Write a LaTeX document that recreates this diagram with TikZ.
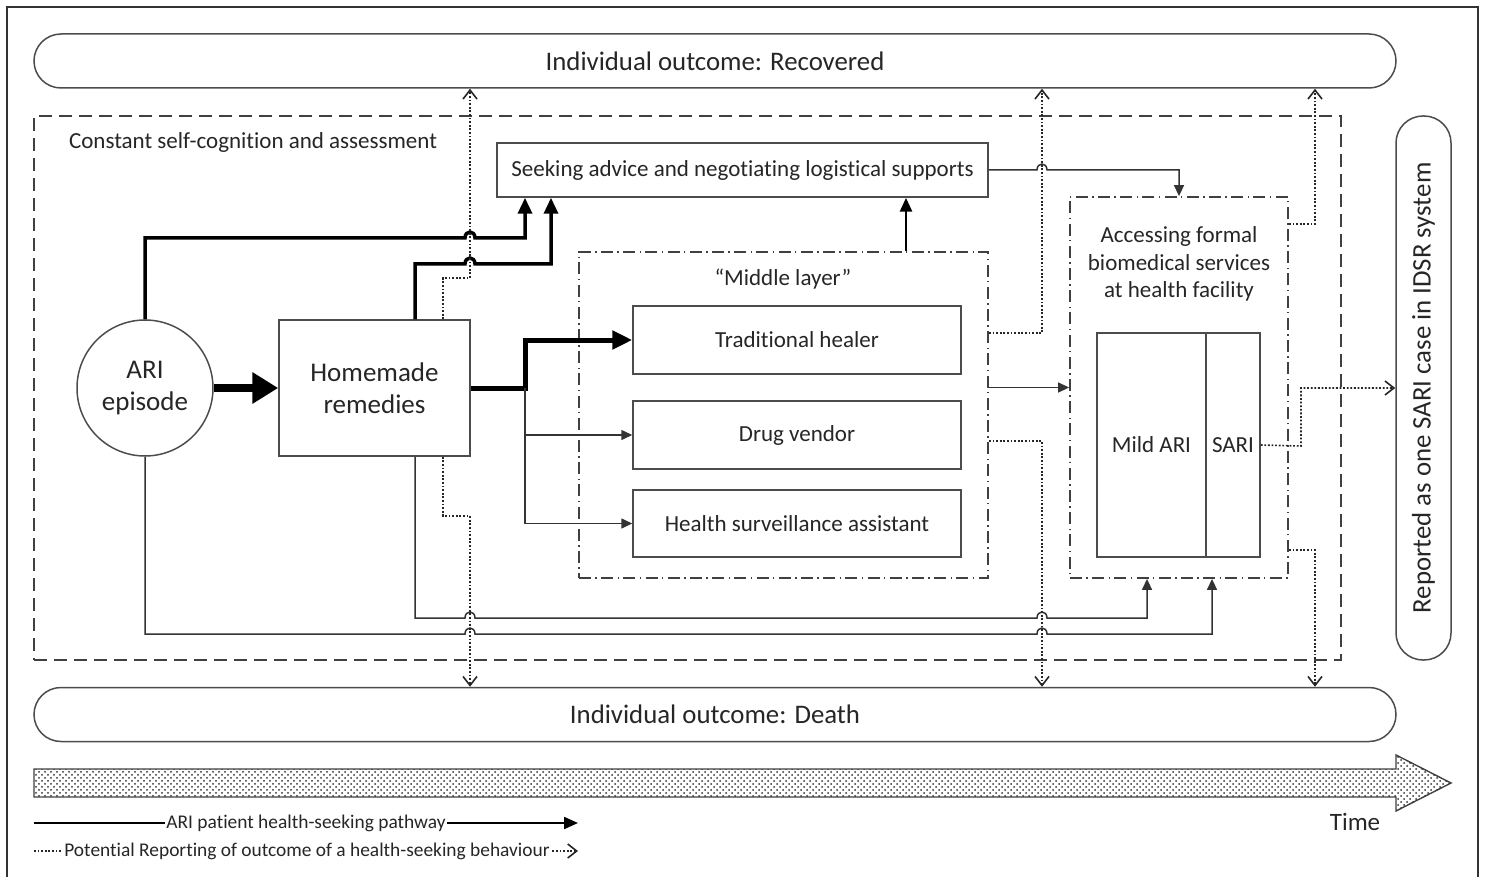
\documentclass[tikz,border=0pt]{standalone}
\usepackage{fontspec}
\setmainfont[Ligatures=NoCommon]{Carlito}
\usetikzlibrary{arrows.meta,patterns}
\begin{document}
\begin{tikzpicture}[x=0.5pt,y=-0.5pt,
  every node/.style={text=black!85},
  boxnode/.style={draw=black!70,line width=0.75pt,fill=white,inner sep=2pt,align=center,font=\fontsize{11.5}{14}\selectfont},
  pill/.style={draw=black!70,line width=0.75pt,fill=white,rounded corners=13.5pt,font=\fontsize{13.4}{16}\selectfont},
  bigdash/.style={draw=black!75,line width=1.2pt,dash pattern=on 6.5pt off 3.5pt},
  dashdot/.style={draw=black!75,line width=0.9pt,dash pattern=on 6pt off 2.2pt on 0.7pt off 2.2pt},
  hugearrow/.style={line width=4pt,-{Triangle[length=13pt,width=15pt]}},
  thickarrow/.style={line width=1.75pt,-{Triangle[length=8pt,width=7pt]}},
  medarrow/.style={line width=2.5pt,-{Triangle[length=10pt,width=9pt]}},
  midarrow/.style={line width=1.4pt,-{Triangle[length=7pt,width=6pt]}},
  thinarrow/.style={draw=black!80,line width=0.75pt,-{Triangle[length=5.5pt,width=5pt]}},
  dotarrow/.style={draw=black!85,line width=0.8pt,dash pattern=on 0.9pt off 0.9pt,-{Straight Barb[length=4.5pt,width=7pt]}},
]
\useasboundingbox (0,0) rectangle (1488,877);
\draw[black!80,line width=0.8pt] (7,7) rectangle (1478,900);

% outcomes
\node[pill,minimum width=681pt,minimum height=27pt] (rec) at (715,61) {Individual outcome: Recovered};
\node[pill,minimum width=681pt,minimum height=27pt] (death) at (715,714.5) {Individual outcome: Death};
\node[pill,rotate=90,minimum width=272pt,minimum height=27.5pt,font=\fontsize{13.4}{16}\selectfont] (rep) at (1423.5,388) {Reported as one SARI case in IDSR system};

% self-cognition region
\node[bigdash,minimum width=653.5pt,minimum height=272pt,inner sep=0pt] (self) at (687.5,388) {};
\node[anchor=west,font=\fontsize{11.5}{14}\selectfont] (selflabel) at (62,142) {Constant self-cognition and assessment};

% main nodes
\node[boxnode,minimum width=245.5pt,minimum height=27pt] (seek) at (742.5,170) {Seeking advice and negotiating logistical supports};
\node[draw=black!70,line width=0.75pt,circle,minimum size=68pt,inner sep=0pt,align=center,font=\fontsize{13.5}{16}\selectfont] (ari) at (145,388) {ARI\\episode};
\node[boxnode,minimum width=95.5pt,minimum height=68pt,font=\fontsize{13.5}{16}\selectfont] (home) at (374.5,388) {Homemade\\remedies};

\node[dashdot,minimum width=204.5pt,minimum height=163pt,inner sep=0pt] (mid) at (783.5,415) {};
\node[font=\fontsize{11.5}{14}\selectfont] (midlabel) at (783,279) {“Middle layer”};
\node[boxnode,minimum width=164pt,minimum height=34pt] (trad) at (797,340) {Traditional healer};
\node[boxnode,minimum width=164pt,minimum height=34pt] (drug) at (797,435) {Drug vendor};
\node[boxnode,minimum width=164pt,minimum height=33.5pt] (hsa) at (797,523.5) {Health surveillance assistant};

\node[dashdot,minimum width=109pt,minimum height=190.5pt,inner sep=0pt] (acc) at (1179,387.5) {};
\node[align=center,font=\fontsize{11.5}{13.75}\selectfont] (acclabel) at (1179,264) {Accessing formal\\biomedical services\\at health facility};
\node[boxnode,minimum width=54.5pt,minimum height=112pt] (mild) at (1151.5,445) {Mild ARI};
\node[boxnode,minimum width=27pt,minimum height=112pt] (sari) at (1233,445) {SARI};

% connectors: pathway
\draw[hugearrow] (ari.east) -- (home.west);
\draw[thickarrow] (ari.north) |- (465,238) .. controls (465,230) and (475,230) .. (475,238) -- (525,238) -- (seek.south -| 525,0);
\draw[thickarrow] (home.north -| 415,0) |- (465,264) .. controls (465,256) and (475,256) .. (475,264) -- (551,264) -- (seek.south -| 551,0);
\draw[medarrow] (home.east) -- (525,388) |- (trad.west);
\draw[thinarrow] (525,388) |- (drug.west);
\draw[thinarrow] (525,388) |- (hsa.west);
\draw[midarrow] (mid.north -| 906,0) -- (seek.south -| 906,0);
\draw[thinarrow] (seek.east) -- (1037,170) .. controls (1037,162) and (1047,162) .. (1047,170) -| (acc.north);
\draw[thinarrow] (mid.east |- acc.west) -- (acc.west);
\draw[thinarrow] (home.south -| 415,0) |- (465,618) .. controls (465,610) and (475,610) .. (475,618) -- (1037,618) .. controls (1037,610) and (1047,610) .. (1047,618) -| (acc.south -| 1147,0);
\draw[thinarrow] (ari.south) |- (465,634) .. controls (465,626) and (475,626) .. (475,634) -- (1037,634) .. controls (1037,626) and (1047,626) .. (1047,634) -| (acc.south -| 1212,0);

% connectors: potential reporting
\draw[dotarrow] (home.north -| 443,0) |- (470,278) -- (rec.south -| 470,0);
\draw[dotarrow] (home.south -| 443,0) |- (470,516) -- (death.north -| 470,0);
\draw[dotarrow] (mid.east |- 0,333) -| (rec.south -| 1042,0);
\draw[dotarrow] (mid.east |- 0,441) -| (death.north -| 1042,0);
\draw[dotarrow] (acc.east |- 0,224) -| (rec.south -| 1315,0);
\draw[dotarrow] (acc.east |- 0,550) -| (death.north -| 1315,0);
\draw[dotarrow] (sari.east) -- (1301,446) |- (rep.north);

% time arrow
\draw[black!75,line width=0.7pt,fill=white,postaction={pattern=crosshatch dots,pattern color=black!80}]
  (34,769) -- (1396,769) -- (1396,755) -- (1451,783) -- (1396,811) -- (1396,797) -- (34,797) -- cycle;
\node[font=\fontsize{12.5}{15}\selectfont] (time) at (1355,822) {Time};

% legend
\coordinate (l1s) at (34,823); \coordinate (l1e) at (578,823);
\coordinate (l2s) at (34,851); \coordinate (l2e) at (578,851);
\draw[line width=1.1pt,-{Triangle[length=7pt,width=6pt]}] (l1s) -- (l1e);
\draw[dotarrow] (l2s) -- (l2e);
\node[fill=white,inner sep=0.5pt,font=\fontsize{9.7}{11}\selectfont] (leg1) at (306,823) {ARI patient health-seeking pathway};
\node[fill=white,inner sep=0.5pt,font=\fontsize{9.7}{11}\selectfont] (leg2) at (307,851) {Potential Reporting of outcome of a health-seeking behaviour};
\end{tikzpicture}
\end{document}
